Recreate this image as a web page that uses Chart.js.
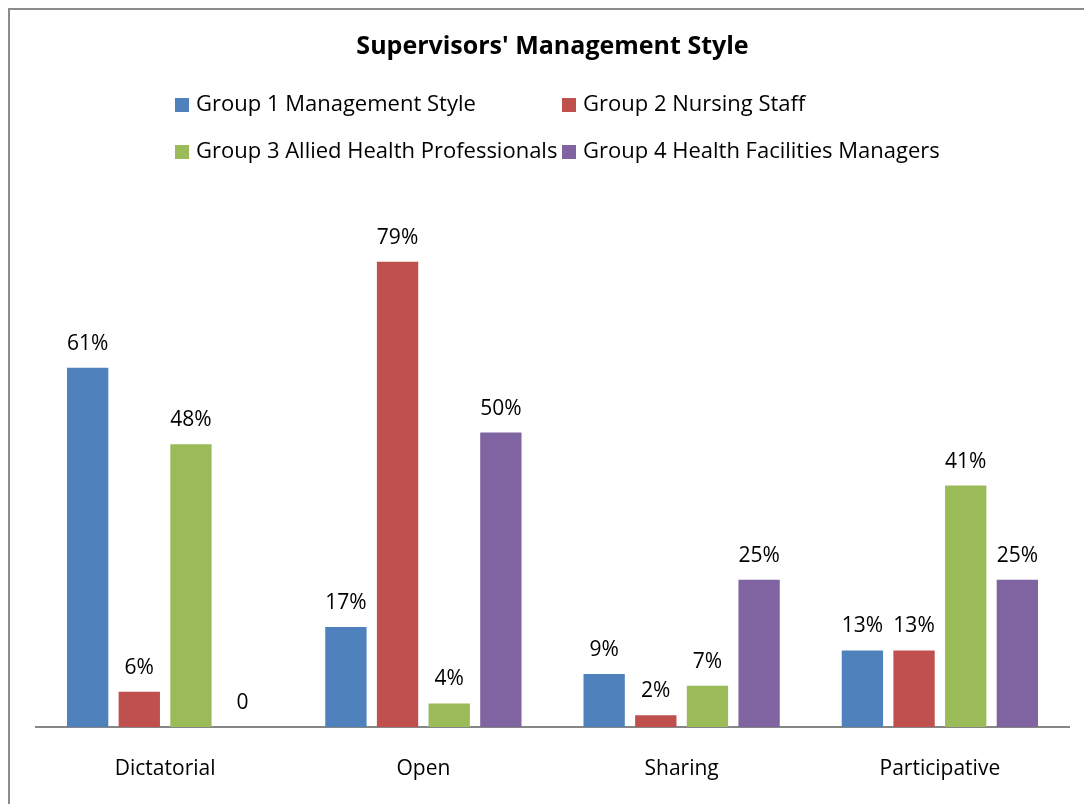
<!DOCTYPE html>
<html>
<head>
<meta charset="utf-8">
<script src="https://cdn.jsdelivr.net/npm/chart.js@4.4.0/dist/chart.umd.min.js"></script>
<style>
html, body { margin: 0; padding: 0; background: #fff; }
#wrap { position: relative; width: 1084px; height: 804px; }
</style>
</head>
<body>
<div id="wrap"><canvas id="chart" width="1084" height="804"></canvas></div>
<script>
// ---- data ----
var categories = ['Dictatorial', 'Open', 'Sharing', 'Participative'];
var seriesNames = ['Group 1 Management Style', 'Group 2 Nursing Staff', 'Group 3 Allied Health Professionals', 'Group 4 Health Facilities Managers'];
var group1 = [61, 17, 9, 13];
var group2 = [6, 79, 2, 13];
var group3 = [48, 4, 7, 41];
var group4 = [0, 50, 25, 25];
var yMax = 90;

var colors = ['#4F81BD', '#C0504D', '#9BBB59', '#8064A2'];
var FONT = '"Open Sans", "Noto Sans", sans-serif';

// frame round the whole chart
var framePlugin = {
    id: 'frame',
    beforeDraw: function(chart) {
        var ctx = chart.ctx;
        ctx.save();
        ctx.fillStyle = '#fff';
        ctx.fillRect(0, 0, chart.width, chart.height);
        ctx.strokeStyle = '#8c8c8c';
        ctx.lineWidth = 2;
        ctx.strokeRect(9, 9, chart.width + 20, chart.height + 20);
        ctx.restore();
    }
};

// two-column legend like the office one
var legendPlugin = {
    id: 'gridLegend',
    afterDraw: function(chart) {
        var ctx = chart.ctx;
        var cols = [175, 562], rows = [105, 152];
        ctx.save();
        ctx.font = '22px ' + FONT;
        ctx.textBaseline = 'middle';
        ctx.textAlign = 'left';
        chart.data.datasets.forEach(function(ds, i) {
            var x = cols[i % 2], y = rows[Math.floor(i / 2)];
            ctx.fillStyle = ds.backgroundColor;
            ctx.fillRect(x, y - 7, 14, 14);
            ctx.fillStyle = '#000';
            ctx.fillText(ds.label, x + 21, y);
        });
        ctx.restore();
    }
};

// value labels above each bar
var valueLabels = {
    id: 'valueLabels',
    afterDatasetsDraw: function(chart) {
        var ctx = chart.ctx;
        ctx.save();
        ctx.font = '21px ' + FONT;
        ctx.fillStyle = '#000';
        ctx.textAlign = 'center';
        ctx.textBaseline = 'middle';
        chart.data.datasets.forEach(function(ds, i) {
            chart.getDatasetMeta(i).data.forEach(function(bar, j) {
                var v = ds.data[j];
                ctx.fillText(v === 0 ? '0' : v + '%', bar.x, bar.y - 24);
            });
        });
        ctx.restore();
    }
};

var allSeries = [group1, group2, group3, group4];

new Chart(document.getElementById('chart'), {
    type: 'bar',
    data: {
        labels: categories,
        datasets: allSeries.map(function(d, i) {
            return { label: seriesNames[i], data: d, backgroundColor: colors[i], borderWidth: 0 };
        })
    },
    options: {
        responsive: false,
        animation: false,
        datasets: { bar: { barPercentage: 0.8, categoryPercentage: 0.8 } },
        layout: { padding: { left: 36, right: 15, top: 0, bottom: 0 } },
        plugins: {
            legend: { display: false },
            tooltip: { enabled: false },
            title: {
                display: true,
                text: "Supervisors' Management Style",
                color: '#000',
                font: { family: FONT, size: 25, weight: 'bold', lineHeight: 1.2 },
                padding: { top: 32, bottom: 135 }
            }
        },
        scales: {
            x: {
                grid: { display: false, drawTicks: false },
                border: { display: true, color: '#868686', width: 2 },
                ticks: { color: '#000', font: { family: FONT, size: 21 }, padding: 29 },
                afterFit: function(scale) { scale.height = 77; }
            },
            y: {
                display: false,
                min: 0,
                max: yMax
            }
        }
    },
    plugins: [framePlugin, legendPlugin, valueLabels]
});
</script>
</body>
</html>
